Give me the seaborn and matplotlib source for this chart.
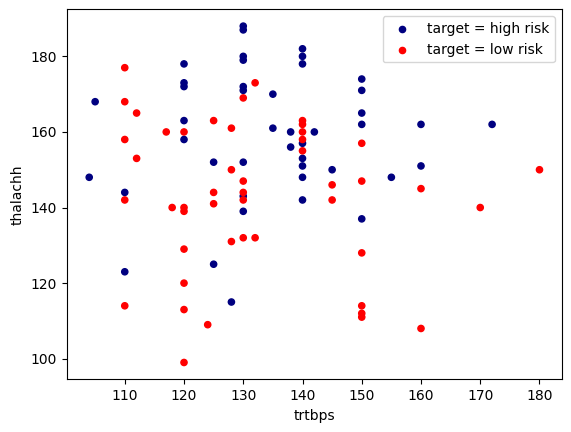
import matplotlib
matplotlib.use("Agg")
import matplotlib.pyplot as plt
import seaborn as sns
import pandas as pd

# high risk points (trtbps, thalachh)
high_trtbps = [105, 104, 110, 110, 120, 120, 120, 120, 120, 125, 130, 130,
               130, 130, 130, 130, 130, 130, 130, 135, 135, 138, 138, 140,
               140, 140, 140, 140, 140, 140, 140, 142, 145, 150, 150, 150,
               150, 150, 155, 160, 160, 172, 125, 128]
high_thalachh = [168, 148, 144, 123, 178, 173, 172, 163, 158, 152, 152, 143,
                 139, 188, 187, 180, 179, 172, 171, 170, 161, 160, 156, 182,
                 180, 178, 157, 153, 151, 148, 142, 160, 150, 174, 171, 165,
                 162, 137, 148, 162, 151, 162, 125, 115]

# low risk points
low_trtbps = [110, 110, 112, 110, 112, 110, 117, 120, 125, 128, 128, 130,
              125, 130, 130, 125, 118, 120, 120, 132, 130, 140, 140, 140,
              140, 140, 150, 150, 145, 145, 160, 170, 180, 128, 130, 132,
              120, 120, 110, 120, 124, 120, 150, 150, 150, 150, 160]
low_thalachh = [177, 168, 165, 158, 153, 142, 160, 160, 163, 161, 150, 147,
                144, 144, 142, 141, 140, 140, 139, 173, 169, 163, 162, 160,
                158, 155, 157, 147, 146, 142, 145, 140, 150, 131, 132, 132,
                129, 120, 114, 113, 109, 99, 128, 114, 112, 111, 108]

groups = ["high risk", "low risk"]
colors = {"high risk": "navy", "low risk": "red"}

df = pd.concat([
    pd.DataFrame({"trtbps": high_trtbps, "thalachh": high_thalachh, "target": "high risk"}),
    pd.DataFrame({"trtbps": low_trtbps, "thalachh": low_thalachh, "target": "low risk"}),
], ignore_index=True)

fig = plt.figure(figsize=(5.71, 4.32), dpi=100)
ax = fig.add_axes([66.7 / 571, (432 - 379.3) / 432, 495.3 / 571, 370 / 432])

sns.scatterplot(data=df, x="trtbps", y="thalachh", hue="target",
                hue_order=groups, palette=colors,
                s=20, edgecolor="face", linewidth=1.0, legend=False, ax=ax)

# legend proxies like a plain matplotlib scatter
for g in groups:
    ax.scatter([], [], color=colors[g], s=20, label="target = {}".format(g))
ax.legend(loc="upper right")
ax.set_xlabel("trtbps")
ax.set_ylabel("thalachh")

fig.savefig("out.png", dpi=100)
